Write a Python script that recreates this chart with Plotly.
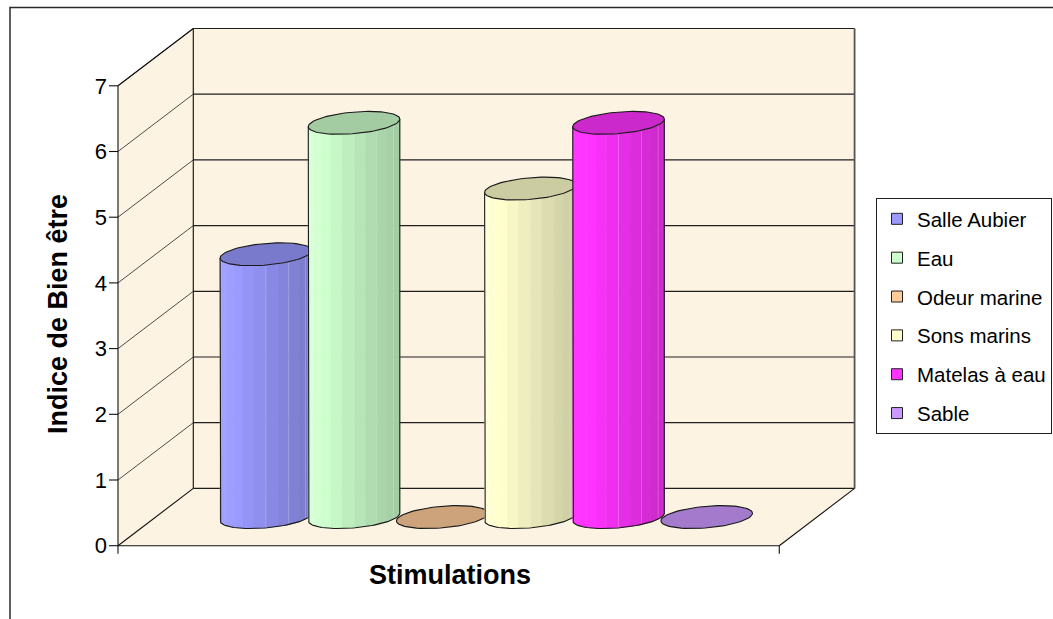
import numpy as np
import plotly.graph_objects as go

# ---- data -------------------------------------------------------------
series = ["Salle Aubier", "Eau", "Odeur marine", "Sons marins", "Matelas à eau", "Sable"]
values = [4, 6, 0, 5, 6, 0]
colors = ["#9999FF", "#CCFFCC", "#FFCC99", "#FFFFCC", "#FF33FF", "#CC99FF"]
y_ticks = [0, 1, 2, 3, 4, 5, 6, 7]
y_title = "Indice de Bien être"
x_title = "Stimulations"

# ---- page / projection settings ----------------------------------------
W, H = 1053, 619
ML, MR, MT, MB = 109, 194, 23, 65
ORIGIN_X, ORIGIN_Y = 118.0, 545.7      # front-left-bottom corner of the box (px)
PX_X = 88.17                            # px per bar slot
PX_Y = 65.7                             # px per index unit
DEPTH_PX = (75.3, 57.3)                 # oblique depth offset of the box (px)
FONT = "Liberation Sans, Arial, sans-serif"
WALL = "#FCF3E2"

dx = DEPTH_PX[0] / PX_X
dy = DEPTH_PX[1] / PX_Y
n = len(series)
gap = 0.75
floor_w = n + 2 * gap
ymax = max(y_ticks)

plot_w = W - ML - MR
plot_h = H - MT - MB
x_lo = (ML - ORIGIN_X) / PX_X
x_hi = (W - MR - ORIGIN_X) / PX_X
y_lo = -((H - MB) - ORIGIN_Y) / PX_Y
y_hi = (ORIGIN_Y - MT) / PX_Y


def px_to_paper(px, py):
    return (px - ML) / plot_w, ((H - MB) - py) / plot_h


def shade(hexcol, f):
    r, g, b = (int(hexcol[k:k + 2], 16) for k in (1, 3, 5))
    return "rgb(%d,%d,%d)" % tuple(min(255, round(c * f)) for c in (r, g, b))


def segs(pairs):
    xs, ys = [], []
    for (xa, ya), (xb, yb) in pairs:
        xs += [xa, xb, None]
        ys += [ya, yb, None]
    return xs, ys


fig = go.Figure()

# ---- walls and floor ---------------------------------------------------
polys = [
    [(0, 0), (0, ymax), (dx, ymax + dy), (dx, dy)],
    [(dx, dy), (dx, ymax + dy), (floor_w + dx, ymax + dy), (floor_w + dx, dy)],
    [(0, 0), (floor_w, 0), (floor_w + dx, dy), (dx, dy)],
]
px_, py_ = [], []
for p in polys:
    px_ += [q[0] for q in p] + [p[0][0], None]
    py_ += [q[1] for q in p] + [p[0][1], None]
fig.add_trace(go.Scatter(x=px_, y=py_, mode="lines", fill="toself", fillcolor=WALL,
                         line=dict(width=0), hoverinfo="skip", showlegend=False))

# gridlines on the side wall
gx, gy = segs([((0, v), (dx, v + dy)) for v in y_ticks[1:]])
fig.add_trace(go.Scatter(x=gx, y=gy, mode="lines", line=dict(color="#3a3a3a", width=0.9),
                         hoverinfo="skip", showlegend=False))

# gridlines on the back wall and its edges
bw = [((dx, v + dy), (floor_w + dx, v + dy)) for v in y_ticks]
bw += [((dx, dy), (dx, ymax + dy))]
gx, gy = segs(bw)
fig.add_trace(go.Scatter(x=gx, y=gy, mode="lines", line=dict(color="#1e1e1e", width=1.2),
                         hoverinfo="skip", showlegend=False))
gx, gy = segs([((floor_w + dx, dy), (floor_w + dx, ymax + dy))])
fig.add_trace(go.Scatter(x=gx, y=gy, mode="lines", line=dict(color="#555555", width=1.8),
                         hoverinfo="skip", showlegend=False))

# floor edges, value axis and tick marks
tick_x = -9 / PX_X
tick_y = -8 / PX_Y
edges = [((0, tick_y), (0, ymax)), ((0, 0), (floor_w, 0)), ((floor_w, 0), (floor_w + dx, dy)),
         ((0, 0), (dx, dy)), ((floor_w, 0), (floor_w, tick_y)), ((0, ymax), (dx, ymax + dy))]
edges += [((0, v), (tick_x, v)) for v in y_ticks]
gx, gy = segs(edges)
fig.add_trace(go.Scatter(x=gx, y=gy, mode="lines", line=dict(color="#101010", width=1.1),
                         hoverinfo="skip", showlegend=False))

# ---- cylinders ---------------------------------------------------------
rx = 0.49           # radius across (slot units)
rz = 0.20           # radius in depth (fraction of box depth)
sx, sy = rz * dx, rz * dy
phi = np.arctan2(rz * DEPTH_PX[0], rx * PX_X)
N_FACETS = 12


def ell(cx, cy, t):
    t = np.asarray(t)
    return cx + rx * np.cos(t) + sx * np.sin(t), cy + sy * np.sin(t)


for i, (name, v, col) in enumerate(zip(series, values, colors)):
    cx = gap + 0.5 + i + 0.5 * dx
    cyb = 0.5 * dy
    cyt = v + 0.5 * dy
    if v > 0:
        ts = np.linspace(np.pi + phi, 2 * np.pi + phi, N_FACETS + 1)
        for k in range(N_FACETS):
            ta, tb = ts[k], ts[k + 1]
            tm = 0.5 * (ta + tb)
            f = 0.94 - 0.14 * np.cos(tm - 0.15)
            tt = np.linspace(ta, tb, 3)
            xbot, ybot = ell(cx, cyb, tt)
            xtop, ytop = ell(cx, cyt, tt[::-1])
            c = shade(col, f)
            fig.add_trace(go.Scatter(
                x=list(xbot) + list(xtop) + [xbot[0]],
                y=list(ybot) + list(ytop) + [ybot[0]],
                mode="lines", fill="toself", fillcolor=c,
                line=dict(color=c, width=0.6), hoverinfo="skip", showlegend=False))
        # faint facet seams on the right-hand half
        sxs, sys_ = [], []
        for t in ts[N_FACETS // 2:-1:2]:
            xb_, yb_ = ell(cx, cyb, t)
            xt_, yt_ = ell(cx, cyt, t)
            sxs += [float(xb_), float(xt_), None]
            sys_ += [float(yb_), float(yt_), None]
        fig.add_trace(go.Scatter(x=sxs, y=sys_, mode="lines",
                                 line=dict(color="rgba(255,255,255,0.3)", width=0.7),
                                 hoverinfo="skip", showlegend=False))
        # silhouette: front arc of the base and the two sides
        tf = np.linspace(np.pi + phi, 2 * np.pi + phi, 60)
        bx, by = ell(cx, cyb, tf)
        lx1, ly1 = ell(cx, cyt, np.pi + phi)
        rx1, ry1 = ell(cx, cyt, 2 * np.pi + phi)
        ox = [float(lx1)] + list(bx) + [float(rx1)]
        oy = [float(ly1)] + list(by) + [float(ry1)]
        fig.add_trace(go.Scatter(x=ox, y=oy, mode="lines",
                                 line=dict(color="#1a1a1a", width=1.1),
                                 hoverinfo="skip", showlegend=False))
    # top face
    ta_ = np.linspace(0, 2 * np.pi, 80)
    ex, ey = ell(cx, cyt, ta_)
    fig.add_trace(go.Scatter(x=ex, y=ey, mode="lines", fill="toself",
                             fillcolor=shade(col, 0.80),
                             line=dict(color="#1a1a1a", width=1.1),
                             hoverinfo="skip", showlegend=False))

# ---- legend entries ----------------------------------------------------
for name, col in zip(series, colors):
    fig.add_trace(go.Scatter(x=[None], y=[None], mode="markers", name=name,
                             legendgroup=name,
                             marker=dict(symbol="square", size=11, color=col,
                                         line=dict(color="#202020", width=1))))

# ---- titles ------------------------------------------------------------
ax_, ay_ = px_to_paper(450, 575)
bx_, by_ = px_to_paper(58, 314)
annotations = [
    dict(text=x_title, x=ax_, y=ay_, xref="paper", yref="paper", showarrow=False,
         xanchor="center", yanchor="middle",
         font=dict(family=FONT, size=27, color="black", weight="bold")),
    dict(text=y_title, x=bx_, y=by_, xref="paper", yref="paper", showarrow=False,
         xanchor="center", yanchor="middle", textangle=-90,
         font=dict(family=FONT, size=27, color="black", weight="bold")),
]

# outer chart border (left and top edges)
b0 = px_to_paper(10, 640)
b1 = px_to_paper(10, 7.5)
b2 = px_to_paper(1070, 7.5)
shapes = [dict(type="path", xref="paper", yref="paper",
               path="M %f %f L %f %f L %f %f" % (b0[0], b0[1], b1[0], b1[1], b2[0], b2[1]),
               line=dict(color="#2a2a2a", width=1.5))]

lx, ly = px_to_paper(876, 198)
fig.update_layout(
    width=W, height=H,
    margin=dict(l=ML, r=MR, t=MT, b=MB, autoexpand=False),
    paper_bgcolor="white", plot_bgcolor="white",
    font=dict(family=FONT, color="black"),
    xaxis=dict(range=[x_lo, x_hi], visible=False, fixedrange=True),
    yaxis=dict(range=[y_lo, y_hi], tickvals=y_ticks, ticks="", showgrid=False,
               zeroline=False, showline=False, ticklabelstandoff=1,
               tickfont=dict(family=FONT, size=22, color="black"), fixedrange=True),
    legend=dict(x=lx, y=ly, xanchor="left", yanchor="top", bgcolor="white",
                bordercolor="#202020", borderwidth=1, traceorder="grouped",
                itemwidth=30, tracegroupgap=9.2,
                font=dict(family=FONT, size=20.5, color="black")),
    annotations=annotations,
    shapes=shapes,
    showlegend=True,
)

fig.write_html("out.html")
